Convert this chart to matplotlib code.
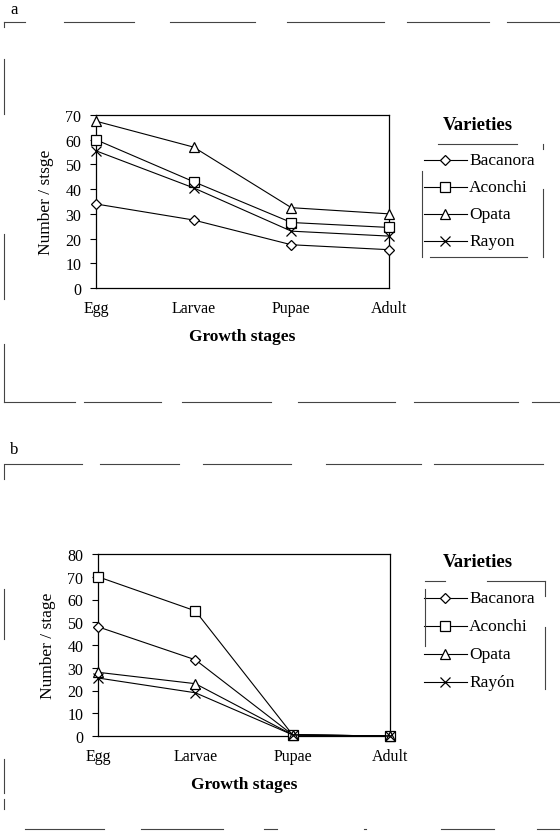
import matplotlib
matplotlib.use("Agg")
import matplotlib.pyplot as plt
from matplotlib.lines import Line2D

plt.rcParams['font.family'] = ['Liberation Serif', 'DejaVu Serif']

stages = ["Egg", "Larvae", "Pupae", "Adult"]
varieties_a = ["Bacanora", "Aconchi", "Opata", "Rayon"]
varieties_b = ["Bacanora", "Aconchi", "Opata", "Rayón"]

bacanora_a = [34, 27.5, 17.5, 15.5]
aconchi_a = [60, 43, 26.5, 24.5]
opata_a = [67.5, 57, 32.5, 30]
rayon_a = [55.5, 40.5, 23, 21]

bacanora_b = [48, 33.5, 0.5, 0]
aconchi_b = [70, 55, 0.5, 0]
opata_b = [28, 23, 0.5, 0]
rayon_b = [25.5, 19, 0.5, 0]

yticks_a = [0, 10, 20, 30, 40, 50, 60, 70]
yticks_b = [0, 10, 20, 30, 40, 50, 60, 70, 80]

markers = ['D', 's', '^', 'x']
msizes = [5, 7, 7, 7]

W, H = 560, 837
fig = plt.figure(figsize=(W / 100, H / 100), dpi=100)


def fx(px):
    return px / W


def fy(py):
    return 1 - py / H


def style(m, ms):
    return dict(color='black', lw=0.8, marker=m, ms=ms,
                mfc='white' if m != 'x' else 'black', mec='black', mew=0.9)


def panel(rect, series, names, ymax, yticks, ylabel, leg_title_y, leg_rows):
    ax = fig.add_axes(rect)
    x = list(range(len(stages)))
    for vals, m, ms in zip(series, markers, msizes):
        ax.plot(x, vals, clip_on=False, zorder=3, **style(m, ms))
    ax.set_xlim(0, 3)
    ax.set_ylim(0, ymax)
    ax.set_xticks(x)
    ax.set_xticklabels(stages, fontsize=11.5)
    ax.set_yticks(yticks)
    ax.set_yticklabels([str(t) for t in yticks], fontsize=11.5)
    ax.tick_params(axis='y', direction='out', length=4, width=0.8, pad=6.5)
    ax.tick_params(axis='x', length=0, pad=9)
    for s in ax.spines.values():
        s.set_linewidth(0.9)
    ax.set_ylabel(ylabel, fontsize=12.5, labelpad=8)
    ax.set_xlabel("Growth stages", fontsize=12.5, fontweight='bold', labelpad=8)
    # legend
    fig.text(fx(478), fy(leg_title_y), "Varieties", fontsize=13.5,
             fontweight='bold', ha='center', va='center')
    for name, m, ms, ry in zip(names, markers, msizes, leg_rows):
        mfc = 'white' if m != 'x' else 'black'
        fig.add_artist(Line2D([fx(424), fx(467)], [fy(ry), fy(ry)],
                              color='black', lw=0.8))
        fig.add_artist(Line2D([fx(445)], [fy(ry)], linestyle='none', marker=m,
                              ms=ms, mfc=mfc, mec='black', mew=0.9))
        fig.text(fx(469), fy(ry), name, fontsize=12.5, ha='left', va='center')
    return ax


panel([fx(96), fy(289), fx(389 - 96), (289 - 116) / H],
      [bacanora_a, aconchi_a, opata_a, rayon_a], varieties_a, 70, yticks_a,
      "Number / stsge", 126, [161, 188, 215, 242])
panel([fx(98), fy(737), fx(390 - 98), (737 - 555) / H],
      [bacanora_b, aconchi_b, opata_b, rayon_b], varieties_b, 80, yticks_b,
      "Number / stage", 563, [599, 627, 655, 683])


def hseg(y, segs):
    for a, b in segs:
        fig.add_artist(Line2D([fx(a), fx(b)], [fy(y), fy(y)], color='#444444', lw=0.8))


def vseg(x, segs):
    for a, b in segs:
        fig.add_artist(Line2D([fx(x), fx(x)], [fy(a), fy(b)], color='#444444', lw=0.8))


# broken frame lines (scanned page)
hseg(23, [(4, 25), (64, 134), (170, 255), (287, 384), (407, 489), (507, 560)])
vseg(4, [(23, 28), (60, 115), (235, 300), (345, 403)])
hseg(403, [(4, 75), (84, 161), (182, 271), (298, 395), (414, 518), (532, 560)])
hseg(465, [(5, 82), (100, 179), (203, 291), (326, 421), (434, 543)])
vseg(4, [(465, 480), (590, 640), (760, 794), (800, 810)])
hseg(830, [(25, 104), (141, 223), (264, 277), (364, 366), (441, 494), (537, 560)])

# legend partial frames
hseg(145, [(438, 517)])
vseg(543, [(145, 150), (190, 258)])
vseg(422, [(172, 258)])
hseg(258, [(430, 527)])
hseg(582, [(425, 445), (487, 545)])
vseg(545, [(582, 597), (628, 690)])
vseg(425, [(590, 647)])

fig.text(fx(10), fy(18), "a", fontsize=12, va='bottom')
fig.text(fx(10), fy(458), "b", fontsize=12, va='bottom')

fig.savefig("out.png", dpi=100, facecolor='white')
